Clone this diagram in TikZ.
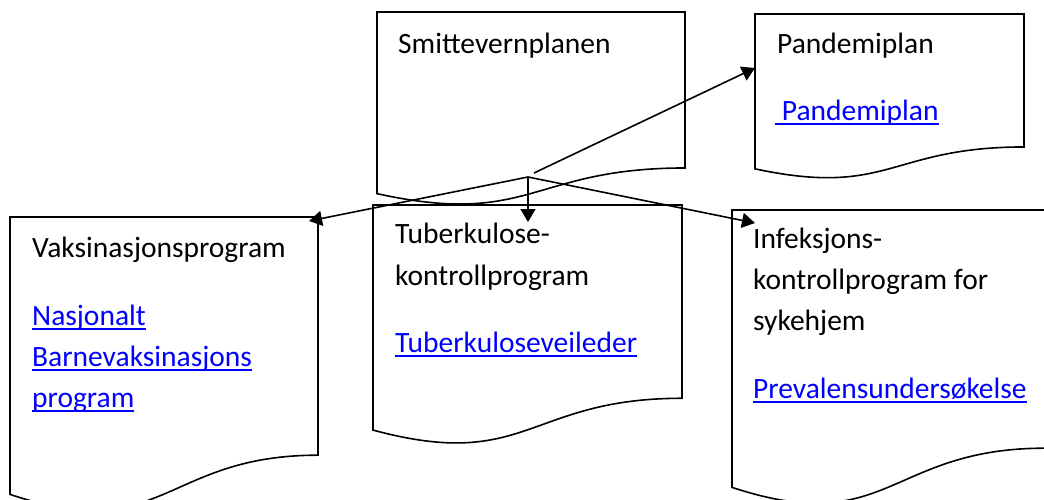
\documentclass[tikz,border=0pt]{standalone}
\usepackage{fontspec}
\setmainfont{Carlito}
\usetikzlibrary{arrows.meta}
\definecolor{linkblue}{RGB}{0,0,255}
\newcommand{\lnk}[1]{\textcolor{linkblue}{\setbox0\hbox{#1}\rlap{\rule[-4.5pt]{\wd0}{2pt}}\box0}}
\newcommand{\docbox}[5]{%
  \coordinate (#1) at (#2,#3);
  \draw[docshape] (#2,#3) -- ({#2+#4},#3) -- ({#2+#4},{#3+0.80194*#5})
    .. controls ({#2+#4/2},{#3+0.80194*#5}) and ({#2+#4/2},{#3+1.10750*#5}) .. (#2,{#3+0.93389*#5}) -- cycle;
}
\begin{document}
\begin{tikzpicture}[x=1pt,y=-1pt,
  docshape/.style={draw=black,line width=1.6pt,fill=white},
  lbl/.style={anchor=base west,inner sep=0pt,font=\fontsize{29.5}{41}\selectfont},
  conn/.style={line width=1.6pt,-{Triangle[length=13pt,width=15pt]}}]
\useasboundingbox (0,0) rectangle (1044,499);
\clip (0,0) rectangle (1044,499);
% documents
\docbox{S}{377}{12}{308}{194.5}
\docbox{P}{755}{14}{269}{165.8}
\docbox{V}{10}{217}{308}{297}
\docbox{T}{373}{205}{309}{241}
\docbox{I}{732}{210}{313}{297}
% texts
\node[lbl] (s1) at (398,53) {Smittevernplanen};
\node[lbl] (p1) at (777,53) {Pandemiplan};
\node[lbl] (p2) at (775,120) {\lnk{\ Pandemiplan}};
\node[lbl] (v1) at (32,257) {Vaksinasjonsprogram};
\node[lbl] (v2) at (32,325) {\lnk{Nasjonalt}};
\node[lbl] (v3) at (32,366) {\lnk{Barnevaksinasjons}};
\node[lbl] (v4) at (32,407) {\lnk{program}};
\node[lbl] (t1) at (395,243) {Tuberkulose-};
\node[lbl] (t2) at (395,285) {kontrollprogram};
\node[lbl] (t3) at (395,352) {\lnk{Tuberkuloseveileder}};
\node[lbl] (i1) at (753,248) {Infeksjons-};
\node[lbl] (i2) at (753,289) {kontrollprogram for};
\node[lbl] (i3) at (753,330) {sykehjem};
\node[lbl] (i4) at (753,398) {\lnk{Prevalensundersøkelse}};
% connector points
\coordinate (J) at (528,177);
\coordinate (Js) at (534,173);
\coordinate (Vt) at (309,221);
\coordinate (Tt) at (528,222);
\coordinate (It) at (755,223);
\coordinate (Pt) at (755,68);
\draw[conn] (J) -- (Vt);
\draw[conn] (J) -- (Tt);
\draw[conn] (J) -- (It);
\draw[conn] (Js) -- (Pt);
\end{tikzpicture}
\end{document}
